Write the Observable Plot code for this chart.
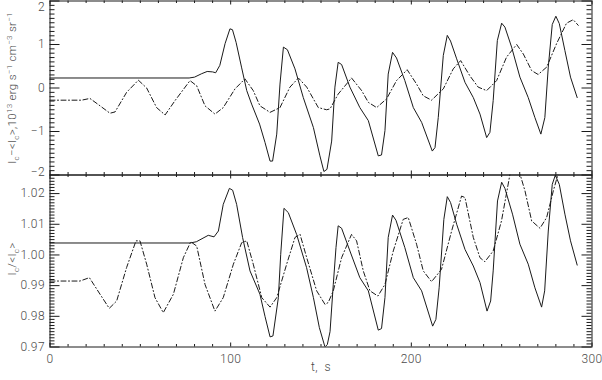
<!DOCTYPE html>
<html>
<head>
<meta charset="utf-8">
<script src="https://cdn.jsdelivr.net/npm/d3@7"></script>
<script src="https://cdn.jsdelivr.net/npm/@observablehq/plot@0.6"></script>
<style>
  body { margin: 0; background: white; }
  #chart { position: relative; width: 602px; height: 380px; background: white; }
  #chart svg { position: absolute; left: 0; display: block; background: transparent; }
</style>
</head>
<body>
<div id="chart"></div>
<script>
// ---- data (t in s) ----
const topSolid = [[0,0.23],[77,0.23],[80,0.25],[84,0.33],[87,0.38],[90,0.37],[91.7,0.35],[94,0.52],[96.9,1.02],[99.6,1.36],[101,1.34],[103,1.05],[106,0.48],[108.9,-0.06],[111.6,-0.37],[116,-0.83],[119,-1.25],[121.8,-1.68],[123.2,-1.68],[125.5,-1.06],[127.3,0.09],[129.2,0.94],[131.4,0.88],[135.6,0.44],[140.2,-0.22],[145.8,-0.91],[149.4,-1.56],[151.6,-1.92],[153.3,-1.87],[155.9,-1.22],[157.7,0.02],[159.5,0.59],[161.4,0.54],[166,0.02],[171.5,-0.45],[176.2,-0.75],[181.7,-1.56],[183.5,-1.54],[185.4,-0.98],[187.2,0.32],[189.6,0.82],[191.8,0.69],[196.4,0.17],[201.1,-0.45],[205.7,-0.79],[211.6,-1.45],[213.1,-1.37],[214.9,-0.68],[217.7,0.75],[219.9,1.21],[221.7,1.08],[225.1,0.67],[229.7,0.13],[234.3,-0.22],[238,-0.6],[241.7,-1.14],[243.5,-1.02],[245.3,-0.29],[247.6,1.09],[250,1.49],[251.8,1.4],[255.5,0.94],[260.1,0.25],[264.7,-0.22],[268.4,-0.68],[271.7,-1.06],[273.9,-0.68],[275.8,0.48],[278,1.46],[280,1.65],[281.9,1.48],[285,0.86],[288.1,0.25],[291.8,-0.22]];
const topDash = [[0,-0.28],[17.5,-0.28],[22.1,-0.24],[27.7,-0.41],[33.2,-0.58],[36,-0.55],[42.4,-0.1],[48.9,0.18],[53.5,0],[59,-0.45],[63.7,-0.62],[69.2,-0.29],[77.5,0.17],[81.2,0.05],[85.8,-0.41],[91.3,-0.6],[95.9,-0.45],[102.4,-0.02],[107.9,0.21],[112.5,-0.06],[116.2,-0.41],[121.8,-0.56],[127.3,-0.45],[132.8,0.02],[137.5,0.23],[142.1,0.02],[148.5,-0.45],[153.1,-0.5],[155,-0.48],[159.5,-0.14],[166.9,0.23],[172.5,-0.06],[176.2,-0.33],[180.8,-0.45],[186.3,-0.25],[191.8,0.17],[197.7,0.42],[202.9,0.09],[206.6,-0.18],[211.2,-0.28],[217.7,-0.02],[223.2,0.44],[227.3,0.63],[232.4,0.28],[237,0.02],[241.7,-0.06],[247.2,0.17],[252.7,0.71],[258.3,1.0],[262,0.78],[266.6,0.4],[270.2,0.31],[274.9,0.48],[280.4,1.02],[285.9,1.49],[289.6,1.57],[292.4,1.44]];
const botSolid = [[0,1.0039],[77.5,1.0039],[81,1.0043],[87.6,1.0064],[90.8,1.0059],[93.2,1.0078],[95.9,1.0165],[99.3,1.0217],[101.1,1.0211],[103.3,1.0165],[106.6,1.0057],[110.7,0.9948],[116.2,0.9872],[119,0.980],[121.8,0.9733],[123.4,0.9736],[126.4,0.9861],[127.7,1.0002],[129.5,1.0152],[131.9,1.0138],[136.5,1.0067],[142,0.9959],[145.8,0.9861],[149.1,0.9763],[152.2,0.9700],[153.5,0.9708],[155,0.975],[156.8,0.9904],[158.3,1.0024],[159.5,1.0095],[161.4,1.0087],[166,1.0013],[171.5,0.9926],[176.2,0.9883],[181.7,0.9755],[183.5,0.9760],[185.4,0.9861],[187.2,1.0057],[189.6,1.013],[191.5,1.0113],[196.4,1.0024],[201.1,0.9926],[205.7,0.9883],[211.8,0.9768],[213.6,0.979],[215.4,0.9893],[218,1.0116],[219.9,1.019],[221.7,1.0171],[225.1,1.01],[229.7,1.0018],[234.3,0.9964],[238,0.991],[241.9,0.9817],[243.9,0.985],[245.3,0.9948],[247.7,1.0176],[250,1.0237],[251.8,1.0217],[256,1.0133],[260.1,1.0035],[264.7,0.997],[268.4,0.9893],[272.1,0.983],[273.8,0.9883],[275.8,1.0078],[278,1.023],[279.7,1.026],[281.9,1.023],[285,1.0133],[288.1,1.0046],[291.8,0.9967]];
const botDash = [[0,0.9915],[16.6,0.9915],[21.8,0.9926],[27.7,0.9872],[32.8,0.9826],[36.9,0.985],[42.4,0.9959],[47.6,1.0046],[49.8,1.0046],[53.5,0.997],[58.1,0.9861],[62.7,0.9812],[68.3,0.9872],[73.8,0.9991],[77.9,1.0043],[81.2,1.0029],[85.8,0.9904],[91.3,0.9817],[95.9,0.9861],[101.5,0.997],[106.1,1.004],[108.9,1.0046],[112.5,0.997],[117.2,0.9861],[121.8,0.983],[125.5,0.9861],[131,0.997],[135.6,1.0057],[138.4,1.0067],[142.1,0.9991],[147.6,0.9883],[152.2,0.9839],[154,0.9845],[156.8,0.9883],[161.4,0.9991],[166.9,1.0067],[169.7,1.0046],[173.4,0.9948],[177.1,0.9883],[181.5,0.9866],[185.4,0.9904],[190,1.0013],[195.5,1.0116],[198.3,1.0122],[202.9,1.0035],[206.6,0.9948],[211.2,0.9913],[216.7,0.9953],[222.3,1.0078],[227.8,1.0192],[229.7,1.0187],[234.3,1.0057],[238,0.9991],[240.7,0.9978],[245.3,1.0013],[249.9,1.0111],[254.6,1.0263],[258.3,1.0300],[262.9,1.0209],[266.6,1.0111],[271.2,1.0087],[274.9,1.0122],[278.6,1.0209],[282,1.028],[286,1.040],[289.6,1.043],[292.4,1.039]];

const xLabels = [0, 100, 200, 300];
const xMinor = d3.range(10, 300, 10).filter(d => d % 100 !== 0);
const topLabels = [-2, -1, 0, 1, 2];
const topMinor = d3.range(-19, 20).map(d => d / 10).filter(d => Math.round(d * 10) % 10 !== 0);
const botLabels = [0.97, 0.98, 0.99, 1.00, 1.01, 1.02];
const botMinor = d3.range(971, 1026).map(d => d / 1000).filter(d => Math.round(d * 1000) % 10 !== 0);
const xTitle = "t,  s";

const ink = "#1a1a1a";
const textInk = "#4a4a4a";
const FONT = "Roboto, 'Liberation Sans', Arial, sans-serif";
const W = 602, ML = 49.5, MR = 10.5;
const FW = W - ML - MR;
const intFmt = d => (d < 0 ? "\u2212" : "") + Math.abs(d);

function frameTicks(FH, yMajor, yMinor) {
  const o = {stroke: ink, strokeWidth: 1};
  return [
    Plot.ruleX(xLabels, {x: d => d, insetTop: FH - 4, ...o}),
    Plot.ruleX(xLabels, {x: d => d, insetBottom: FH - 4, ...o}),
    Plot.ruleX(xMinor, {x: d => d, insetTop: FH - 2.5, ...o}),
    Plot.ruleX(xMinor, {x: d => d, insetBottom: FH - 2.5, ...o}),
    Plot.ruleY(yMajor, {y: d => d, insetRight: FW - 10, ...o}),
    Plot.ruleY(yMajor, {y: d => d, insetLeft: FW - 10, ...o}),
    Plot.ruleY(yMinor, {y: d => d, insetRight: FW - 5, ...o}),
    Plot.ruleY(yMinor, {y: d => d, insetLeft: FW - 5, ...o}),
    Plot.frame({stroke: ink, strokeWidth: 1})
  ];
}

const style = {fontFamily: FONT, fontSize: "12px", fontWeight: 300, letterSpacing: "0.4px", background: "transparent", overflow: "visible"};
const lineO = {x: d => d[0], y: d => d[1], stroke: ink, strokeWidth: 1, curve: "linear"};
const dashO = {...lineO, strokeDasharray: "5,2.5,1,2.5"};
const lab = {tickSize: 0, tickPadding: 5, label: null, fill: textInk};

const topH = 175;
const topPlot = Plot.plot({
  width: W, height: topH, marginTop: 0.5, marginBottom: 0.5, marginLeft: ML, marginRight: MR,
  style,
  x: {domain: [0, 300], axis: null},
  y: {domain: [-2, 2], axis: null},
  marks: [
    ...frameTicks(topH - 1, topLabels, topMinor),
    Plot.axisY({ticks: [-1, 0, 1], tickFormat: intFmt, ...lab}),
    Plot.axisY({ticks: [2], tickFormat: intFmt, ...lab, dy: 6}),
    Plot.axisY({ticks: [-2], tickFormat: intFmt, ...lab, dy: -3}),
    Plot.line(topSolid, lineO),
    Plot.line(topDash, dashO)
  ]
});

const botH = 206;
const botPlot = Plot.plot({
  width: W, height: botH, marginTop: 0.5, marginBottom: 33.5, marginLeft: ML, marginRight: MR,
  style,
  x: {domain: [0, 300], axis: null},
  y: {domain: [0.97, 1.02606], axis: null},
  marks: [
    ...frameTicks(botH - 34, botLabels, botMinor),
    Plot.axisY({ticks: botLabels, tickFormat: d3.format(".2f"), ...lab}),
    Plot.axisX({ticks: xLabels, anchor: "bottom", tickSize: 0, tickPadding: 7, label: null, fill: textInk}),
    Plot.text([xTitle], {x: 150, frameAnchor: "bottom", dy: 24, text: d => d, fill: textInk}),
    Plot.line(botSolid, {...lineO, clip: true}),
    Plot.line(botDash, {...dashO, clip: true})
  ]
});

const chart = document.getElementById("chart");
topPlot.style.top = "0px";
botPlot.style.top = (topH - 1) + "px";
chart.appendChild(botPlot);
chart.appendChild(topPlot);

function richTitle(svg, x, y, segs) {
  const t = d3.select(svg).append("text")
    .attr("transform", `translate(${x},${y}) rotate(-90)`)
    .attr("text-anchor", "middle")
    .attr("fill", textInk)
    .style("font-family", FONT)
    .style("font-weight", 300)
    .style("letter-spacing", "0.3px")
    .style("font-size", "11.5px");
  let shift = 0;
  for (const [s, k] of segs) {
    const target = k === "sub" ? 3 : k === "sup" ? -4.5 : 0;
    const ts = t.append("tspan").text(s).attr("dy", target - shift);
    if (k) ts.style("font-size", "8px");
    shift = target;
  }
}
richTitle(topPlot, 16, 88, [["I"],["c","sub"],["\u2212<I"],["c","sub"],[">,10"],["13","sup"],[" erg s"],["\u22121","sup"],[" cm"],["\u22123","sup"],[" sr"],["\u22121","sup"]]);
richTitle(botPlot, 16, 259 - (topH - 1), [["I"],["c","sub"],["/<I"],["c","sub"],[">"]]);
</script>
</body>
</html>
